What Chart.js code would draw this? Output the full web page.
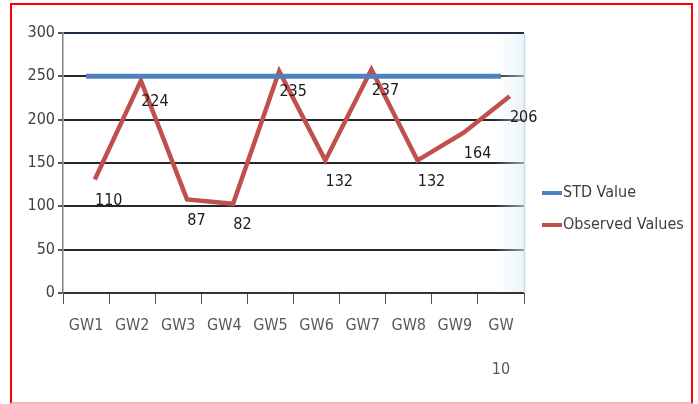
<!DOCTYPE html>
<html>
<head>
<meta charset="utf-8">
<script src="https://cdn.jsdelivr.net/npm/chart.js@4.4.0/dist/chart.umd.min.js"></script>
<style>
    html, body { margin: 0; padding: 0; background: #fff; }
    #wrap { position: relative; width: 698px; height: 404px; }
    #wrap canvas { position: absolute; left: 0; top: 0; }
    #frame {
        position: absolute; left: 10px; top: 3px; width: 679px; height: 397px;
        border: 2px solid #ff0000; border-bottom-color: #f2b8b8; pointer-events: none;
    }
</style>
</head>
<body>
<div id="wrap"><canvas id="chart" width="698" height="404"></canvas><div id="frame"></div></div>
<script>
// chart data
const categories = ['GW1', 'GW2', 'GW3', 'GW4', 'GW5', 'GW6', 'GW7', 'GW8', 'GW9', ['GW', '10']];
const stdValues = [250, 250, 250, 250, 250, 250, 250, 250, 250, 250];
const observedValues = [110, 224, 87, 82, 235, 132, 237, 132, 164, 206];
const yTicks = [0, 50, 100, 150, 200, 250, 300];
const seriesNames = ['STD Value', 'Observed Values'];

const FONT = "'Liberation Sans Narrow', 'DejaVu Sans Condensed', sans-serif";

// light blue tint at the right of the plot area, like the original
const plotBackground = {
    id: 'plotBackground',
    beforeDatasetsDraw(chart) {
        const {ctx, chartArea: {right, top, bottom}} = chart;
        ctx.save();
        let g = ctx.createLinearGradient(right - 30, 0, right, 0);
        g.addColorStop(0, 'rgba(225,238,247,0)');
        g.addColorStop(1, 'rgba(222,236,246,0.6)');
        ctx.fillStyle = g;
        ctx.fillRect(right - 30, top + 1, 30, bottom - top - 2);
        ctx.strokeStyle = '#c3daea';
        ctx.lineWidth = 1.5;
        ctx.beginPath();
        ctx.moveTo(right + 0.5, top);
        ctx.lineTo(right + 0.5, bottom);
        ctx.stroke();
        ctx.restore();
    }
};

// value labels placed to the right of each point
const valueLabels = {
    id: 'valueLabels',
    afterDatasetsDraw(chart) {
        const {ctx} = chart;
        const xs = chart.scales.x, ys = chart.scales.y;
        ctx.save();
        ctx.font = '16px ' + FONT;
        ctx.fillStyle = '#1a1a1a';
        ctx.textAlign = 'left';
        ctx.textBaseline = 'middle';
        observedValues.forEach((v, i) => {
            ctx.fillText(String(v), xs.getPixelForTick(i) + 9, ys.getPixelForValue(v) + 3);
        });
        ctx.restore();
    }
};

// legend drawn on the right side
const sideLegend = {
    id: 'sideLegend',
    afterDraw(chart) {
        const {ctx} = chart;
        let x = chart.chartArea.right + 18;
        let y = 193;
        ctx.save();
        ctx.font = '16px ' + FONT;
        ctx.textBaseline = 'middle';
        chart.data.datasets.forEach(ds => {
            ctx.fillStyle = ds.borderColor;
            ctx.fillRect(x, y - 2, 20, 4);
            ctx.fillStyle = '#404040';
            ctx.fillText(ds.label, x + 21, y);
            y += 32;
        });
        ctx.restore();
    }
};

let ctx2d = document.getElementById('chart').getContext('2d');
let chart = new Chart(ctx2d, {
    type: 'line',
    data: {
        labels: categories,
        datasets: [
            {
                label: seriesNames[0],
                data: stdValues,
                borderColor: '#4f81bd',
                borderWidth: 5,
                pointRadius: 0,
                xAxisID: 'x',
                yAxisID: 'y'
            },
            {
                label: seriesNames[1],
                data: observedValues.map((v, i) => ({x: i, y: v})),
                borderColor: '#c0504d',
                borderWidth: 4.5,
                pointRadius: 0,
                borderJoinStyle: 'miter',
                xAxisID: 'xObs',
                yAxisID: 'yObs'
            }
        ]
    },
    options: {
        responsive: false,
        animation: false,
        events: [],
        layout: {padding: {top: 33, right: 174, bottom: 6, left: 0}},
        plugins: {legend: {display: false}, tooltip: {enabled: false}},
        scales: {
            x: {
                type: 'category',
                offset: true,
                afterFit: s => { s.height = 105; },
                grid: {
                    offset: true,
                    drawOnChartArea: false,
                    drawTicks: true,
                    tickLength: 11,
                    tickColor: '#555'
                },
                border: {display: true, color: '#333', width: 2},
                ticks: {
                    color: '#595959',
                    padding: 0,
                    maxRotation: 0,
                    autoSkip: false,
                    font: {family: FONT, size: 16, lineHeight: '44px'}
                }
            },
            y: {
                min: 0,
                max: 300,
                afterFit: s => { s.width = 63; },
                afterBuildTicks: s => { s.ticks = yTicks.map(v => ({value: v})); },
                grid: {
                    color: c => (c.tick && c.tick.value === 300) ? '#1d2b40' : '#262626',
                    lineWidth: 2,
                    tickLength: 5,
                    tickColor: '#555'
                },
                border: {display: true, color: '#808080', width: 1.5},
                ticks: {
                    color: '#404040',
                    padding: 3,
                    font: {family: FONT, size: 16}
                }
            },
            xObs: {type: 'linear', display: false, min: -0.69, max: 9.31},
            yObs: {type: 'linear', display: false, min: -21, max: 279}
        }
    },
    plugins: [plotBackground, valueLabels, sideLegend]
});
</script>
</body>
</html>
